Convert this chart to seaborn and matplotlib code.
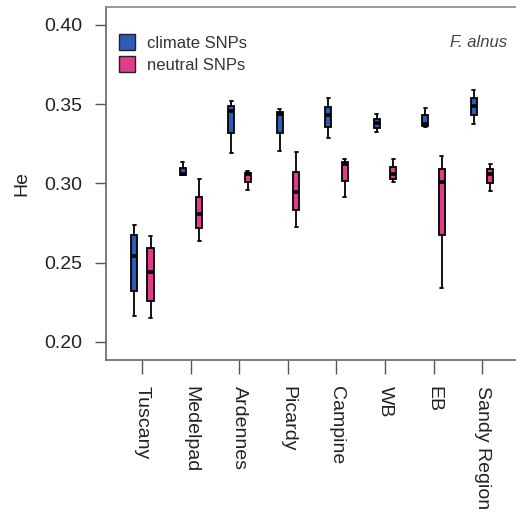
import numpy as np
import pandas as pd
import matplotlib
matplotlib.use("Agg")
import matplotlib.pyplot as plt
from matplotlib.patches import Patch
import seaborn as sns

regions = ["Tuscany", "Medelpad", "Ardennes", "Picardy", "Campine", "WB", "EB", "Sandy Region"]
groups = ["climate SNPs", "neutral SNPs"]

# five-number summaries: [min, q1, median, q3, max]
climate = [
    [0.2166, 0.2322, 0.2542, 0.2672, 0.2740],
    [0.3052, 0.3052, 0.3062, 0.3098, 0.3136],
    [0.3189, 0.3319, 0.3456, 0.3488, 0.3520],
    [0.3203, 0.3319, 0.3440, 0.3450, 0.3471],
    [0.3286, 0.3355, 0.3429, 0.3484, 0.3538],
    [0.3326, 0.3351, 0.3383, 0.3408, 0.3440],
    [0.3355, 0.3361, 0.3376, 0.3429, 0.3478],
    [0.3376, 0.3431, 0.3488, 0.3537, 0.3589],
]
neutral = [
    [0.2154, 0.2255, 0.2438, 0.2590, 0.2666],
    [0.2639, 0.2719, 0.2809, 0.2917, 0.3029],
    [0.2957, 0.3007, 0.3056, 0.3067, 0.3077],
    [0.2727, 0.2835, 0.2947, 0.3073, 0.3197],
    [0.2917, 0.3014, 0.3119, 0.3134, 0.3151],
    [0.3007, 0.3029, 0.3056, 0.3105, 0.3151],
    [0.2337, 0.2672, 0.3007, 0.3088, 0.3172],
    [0.2950, 0.3003, 0.3060, 0.3088, 0.3119],
]
yticks = [0.20, 0.25, 0.30, 0.35, 0.40]

rows = []
for r, c5, n5 in zip(regions, climate, neutral):
    for v in c5:
        rows.append((r, groups[0], v))
    for v in n5:
        rows.append((r, groups[1], v))
df = pd.DataFrame(rows, columns=["region", "group", "He"])

sns.set_style("white")
plt.rcParams["font.family"] = ["Liberation Sans", "DejaVu Sans"]

colors = {"climate SNPs": "#2F5BB7", "neutral SNPs": "#E03C8A"}

fig = plt.figure(figsize=(5.16, 5.13), dpi=100)
ax = fig.add_axes([0.2054, 0.2982, 0.7946, 0.6882])

sns.boxplot(data=df, x="region", y="He", hue="group", order=regions,
            hue_order=groups, palette=colors, whis=np.inf, width=0.68,
            gap=0.62, linecolor="black", linewidth=1.3, saturation=1,
            medianprops=dict(linewidth=2.6, color="black"),
            ax=ax, legend=False)

ax.set_xlim(-0.75, 7.7)
ax.set_ylim(0.1886, 0.4112)
ax.set_yticks(yticks)
ax.set_yticklabels([f"{t:.2f}" for t in yticks], fontsize=14, color="#222222")
ax.set_xticks(range(len(regions)))
ax.set_xticklabels(regions, rotation=270, fontsize=14, color="#222222",
                   va="top", ha="center")
ax.tick_params(axis="y", direction="out", length=8, width=1, color="#555555", pad=9, left=True)
ax.tick_params(axis="x", direction="out", length=10, width=1, color="#555555", pad=9, bottom=True)
ax.set_xlabel("")
ax.set_ylabel("He", fontsize=14, color="#222222", labelpad=10)

for s in ["left", "bottom", "top"]:
    ax.spines[s].set_visible(True)
    ax.spines[s].set_color("#666666")
    ax.spines[s].set_linewidth(1.2)
ax.spines["top"].set_color("#888888")
ax.spines["right"].set_visible(False)

handles = [Patch(facecolor=colors[g], edgecolor="#222222", linewidth=1.0, label=g) for g in groups]
leg = ax.legend(handles=handles, loc="upper left", bbox_to_anchor=(0.0, 0.96),
                frameon=False, fontsize=12, handlelength=0.95, handleheight=1.1,
                handletextpad=0.7, labelspacing=0.3, borderaxespad=0.4)
for t in leg.get_texts():
    t.set_color("#333333")

ax.text(0.978, 0.9, "F. alnus", transform=ax.transAxes, ha="right", va="center",
        fontsize=12, style="italic", color="#444444")

fig.savefig("out.png", dpi=100)
